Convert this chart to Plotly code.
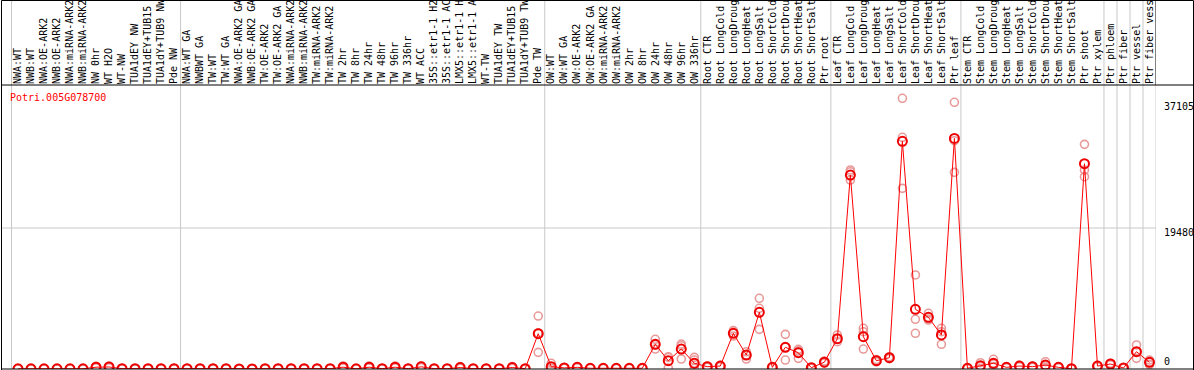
import plotly.graph_objects as go

# ---------------- data ----------------
labels_nw = ["NWA:WT", "NWB:WT", "NWA:OE-ARK2", "NWB:OE-ARK2", "NWA:miRNA-ARK2", "NWB:miRNA-ARK2",
             "NW 0hr", "WT H2O", "WT-NW", "TUA1dEY NW", "TUA1dEY+TUB15", "TUA1dY+TUB9 NW", "Pde NW"]
labels_tw = ["NWA:WT GA", "NWBWT GA", "TW:WT", "TW:WT GA", "NWA:OE-ARK2 GA", "NWB:OE-ARK2 GA",
             "TW:OE-ARK2", "TW:OE-ARK2 GA", "NWA:miRNA-ARK2", "NWB:miRNA-ARK2", "TW:miRNA-ARK2",
             "TW:miRNA-ARK2", "TW 2hr", "TW 8hr", "TW 24hr", "TW 48hr", "TW 96hr", "TW 336hr", "WT ACC",
             "35S::etr1-1 H2", "35S::etr1-1 AC", "LMX5::etr1-1 H", "LMX5::etr1-1 A", "WT-TW", "TUA1dEY TW",
             "TUA1dEY+TUB15", "TUA1dY+TUB9 TW", "Pde TW"]
labels_ow = ["OW:WT", "OW:WT GA", "OW:OE-ARK2", "OW:OE-ARK2 GA", "OW:miRNA-ARK2", "OW:miRNA-ARK2",
             "OW 2hr", "OW 8hr", "OW 24hr", "OW 48hr", "OW 96hr", "OW 336hr"]
labels_root = ["Root CTR", "Root LongCold", "Root LongDroug", "Root LongHeat", "Root LongSalt",
               "Root ShortCold", "Root ShortDrou", "Root ShortHeat", "Root ShortSalt", "Ptr root"]
labels_leaf = ["Leaf CTR", "Leaf LongCold", "Leaf LongDroug", "Leaf LongHeat", "Leaf LongSalt",
               "Leaf ShortCold", "Leaf ShortDrou", "Leaf ShortHeat", "Leaf ShortSalt", "Ptr leaf"]
labels_stem = ["Stem CTR", "Stem LongCold", "Stem LongDroug", "Stem LongHeat", "Stem LongSalt",
               "Stem ShortCold", "Stem ShortDrou", "Stem ShortHeat", "Stem ShortSalt", "Ptr shoot", "Ptr xylem"]
labels_ptr = ["Ptr phloem", "Ptr fiber", "Ptr vessel", "Ptr fiber vess"]

mean_nw = [30, 30, 30, 30, 30, 30, 250, 280, 50, 50, 50, 50, 50]
mean_tw = [50, 50, 50, 50, 0, 0, 50, 50, 50, 50, 50, 50, 250, 30, 250, 50, 250, 50, 300, 50, 50, 200, 50,
           50, 50, 200, 50, 4880]
mean_ow = [320, 150, 230, 100, 100, 100, 100, 100, 3410, 1150, 2760, 790]
mean_root = [320, 410, 4930, 1930, 7830, 230, 3000, 2250, 180, 940]
mean_leaf = [4190, 26800, 4460, 1150, 1560, 31460, 8250, 7140, 4700, 31860]
mean_stem = [100, 460, 790, 230, 410, 320, 550, 230, 40, 28360, 410]
mean_ptr = [690, 140, 2390, 920]

rep1 = ([40, 40, 40, 40, 40, 40, 380, 400, 60, 60, 60, 60, 60]
        + [60, 60, 60, 60, 10, 10, 60, 60, 60, 60, 60, 60, 420, 40, 400, 60, 400, 60, 450, 60, 60, 330, 60,
           60, 60, 330, 60, 7320]
        + [790, 200, 300, 130, 130, 130, 130, 130, 4100, 1700, 3450, 1610]
        + [400, 500, 5300, 2390, 9770, 300, 4790, 2720, 250, 1100]
        + [4700, 27500, 5620, 1300, 1700, 37400, 12990, 7700, 5620, 36850]
        + [150, 870, 1340, 300, 500, 400, 1010, 300, 60, 31040, 500]
        + [800, 180, 3320, 1240])
rep2 = ([30, 30, 30, 30, 30, 30, 200, 250, 50, 50, 50, 50, 50]
        + [50, 50, 50, 50, 0, 0, 50, 50, 50, 50, 50, 50, 200, 30, 200, 50, 200, 50, 250, 50, 50, 160, 50,
           50, 50, 160, 50, 4990]
        + [100, 150, 220, 100, 100, 100, 100, 100, 3370, 1610, 3220, 1240]
        + [300, 400, 4930, 1930, 8390, 220, 3000, 2500, 170, 900]
        + [4100, 27260, 5150, 1150, 1560, 32010, 6870, 6900, 5150, 31540]
        + [100, 400, 700, 220, 400, 300, 450, 220, 40, 27490, 400]
        + [690, 140, 2390, 920])
rep3 = ([20, 20, 20, 20, 20, 20, 170, 190, 40, 40, 40, 40, 40]
        + [40, 40, 40, 40, 0, 0, 40, 40, 40, 40, 40, 40, 130, 20, 150, 40, 150, 40, 200, 40, 40, 110, 40,
           40, 40, 110, 40, 2300]
        + [70, 100, 170, 70, 70, 70, 70, 70, 2760, 140, 1380, 100]
        + [260, 330, 4560, 1380, 5480, 170, 1240, 1470, 120, 820]
        + [3770, 26110, 2760, 1000, 1420, 24960, 4930, 6770, 3410, 27170]
        + [50, 110, 330, 170, 330, 260, 190, 170, 20, 26570, 330]
        + [580, 100, 1470, 600])

gene = "Potri.005G078700"
ytick_vals = [37105, 19480, 0]
ytick_text = ["37105", "19480", "0"]

# ---------------- build ----------------
groups = [labels_nw, labels_tw, labels_ow, labels_root, labels_leaf, labels_stem, labels_ptr]
labels = [l for g in groups for l in g]
means = mean_nw + mean_tw + mean_ow + mean_root + mean_leaf + mean_stem + mean_ptr
xs = list(range(len(labels)))

bounds = []
acc = 0
for g in groups[:-1]:
    acc += len(g)
    bounds.append(acc - 0.5)
bounds = [-0.5] + bounds + [84.5, 85.5, 86.5]

W, H = 1194, 370
ML, MR, MT, MB = 1, 38, 85, 1
PW, PH = W - ML - MR, H - MT - MB
YMAX = 39238

def px(xp):
    return (xp - ML) / PW

def py(yp):
    return (H - MB - yp) / PH

mono = "DejaVu Sans Mono"
fig = go.Figure()
rep_col = "#e89a9a"
for r in (rep1, rep2, rep3):
    fig.add_trace(go.Scatter(x=xs, y=r, mode="markers",
                             marker=dict(symbol="circle-open", size=8, color=rep_col,
                                         line=dict(width=1.6, color=rep_col)),
                             showlegend=False, hoverinfo="skip"))
fig.add_trace(go.Scatter(x=xs, y=means, mode="lines+markers",
                         line=dict(color="#ff0000", width=1),
                         marker=dict(symbol="circle-open", size=9, color="#ee0000",
                                     line=dict(width=2, color="#ee0000")),
                         showlegend=False))

shapes = []
top = py(0.5)
for b in bounds:
    shapes.append(dict(type="line", xref="x", yref="paper", x0=b, x1=b, y0=0, y1=top,
                       line=dict(color="#c8c8c8", width=1), layer="below"))
shapes.append(dict(type="line", xref="x", yref="paper", x0=87.5, x1=87.5, y0=0, y1=1,
                   line=dict(color="#c8c8c8", width=1), layer="below"))
shapes.append(dict(type="line", xref="x", yref="paper", x0=87.5, x1=87.5, y0=1, y1=top,
                   line=dict(color="black", width=1)))
shapes.append(dict(type="line", xref="paper", yref="y", x0=0, x1=1, y0=19480, y1=19480,
                   line=dict(color="#c8c8c8", width=1), layer="below"))
right = px(1193.5)
left = px(1.5)
for (x0, y0, x1, y1) in [(left, py(370), left, top), (left, top, right, top), (right, top, right, py(370)),
                         (left, py(369), right, py(369)), (left, 1, right, 1)]:
    shapes.append(dict(type="line", xref="paper", yref="paper", x0=x0, x1=x1, y0=y0, y1=y1,
                       line=dict(color="black", width=1)))

annotations = [dict(text=gene, xref="paper", yref="paper", x=px(8), y=py(97), xanchor="left",
                    yanchor="middle", showarrow=False, font=dict(family=mono, size=10, color="#ff0000"))]
yshifts = [-6.3, -4, 7.3]
for v, t, s in zip(ytick_vals, ytick_text, yshifts):
    annotations.append(dict(text=t, xref="paper", yref="y", x=px(1162), y=v, yshift=s, xanchor="left",
                            yanchor="middle", showarrow=False, font=dict(family=mono, size=10, color="black")))

fig.update_layout(
    template="none",
    width=W, height=H, margin=dict(l=ML, r=MR, t=MT, b=MB, pad=0, autoexpand=False),
    paper_bgcolor="white", plot_bgcolor="white",
    xaxis=dict(range=[-1.307, 87.5], side="top", tickmode="array", tickvals=xs, ticktext=labels,
               tickangle=-90, tickfont=dict(family=mono, size=10, color="black"), ticks="",
               showgrid=False, zeroline=False, showline=False, fixedrange=True, automargin=False),
    yaxis=dict(range=[0, YMAX], showgrid=False, zeroline=False, showline=False, showticklabels=False,
               ticks="", fixedrange=True, automargin=False),
    shapes=shapes, annotations=annotations,
)
fig.write_html("out.html", config={"displayModeBar": False, "staticPlot": True},
               post_script="document.body.style.margin='0';document.body.style.overflow='hidden';")
